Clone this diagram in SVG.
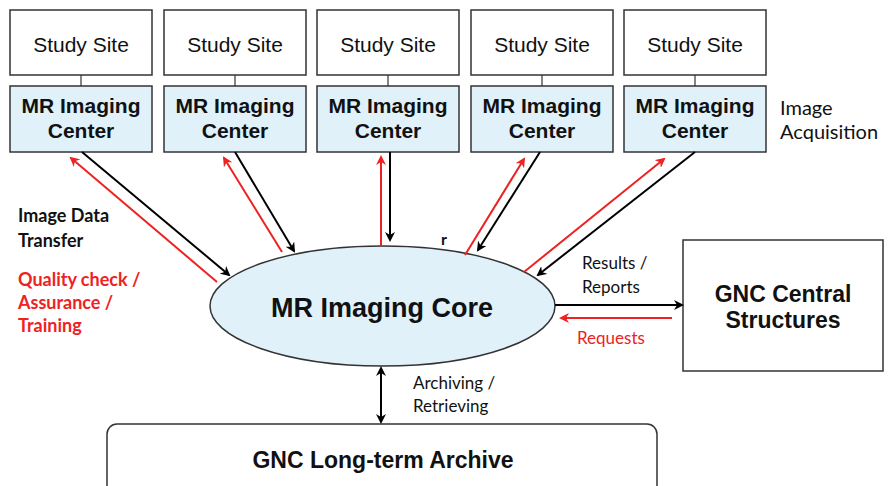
<svg xmlns="http://www.w3.org/2000/svg" width="896" height="486" viewBox="0 0 896 486">
<defs>
<marker id="ab" markerWidth="10" markerHeight="10" refX="8" refY="5" orient="auto" markerUnits="userSpaceOnUse"><path d="M0,0 L10,5 L0,10 L3,5 Z" fill="#000"/></marker>
<marker id="ar" markerWidth="10" markerHeight="10" refX="8" refY="5" orient="auto" markerUnits="userSpaceOnUse"><path d="M0,0 L10,5 L0,10 L3,5 Z" fill="#ee2222"/></marker>
<marker id="abs" markerWidth="10" markerHeight="10" refX="2" refY="5" orient="auto" markerUnits="userSpaceOnUse"><path d="M10,0 L0,5 L10,10 L7,5 Z" fill="#000"/></marker>
</defs>
<style>
.site{fill:#fff;stroke:#333;stroke-width:1.5}
.ctr{fill:#e0f1fa;stroke:#333;stroke-width:1.5}
.ts{font-family:"Liberation Sans",Arial,sans-serif;font-size:21px;fill:#111;text-anchor:middle}
.tb{font-family:"Liberation Sans",Arial,sans-serif;font-size:21px;font-weight:bold;fill:#111;text-anchor:middle}
.lab{font-family:Lato,"Open Sans",sans-serif;font-size:17px;fill:#111}
.labb{font-family:Lato,"Open Sans",sans-serif;font-size:18px;font-weight:bold;fill:#111}
.labr{font-family:Lato,"Open Sans",sans-serif;font-size:18px;font-weight:bold;fill:#ee2222}
.bl{stroke:#000;stroke-width:2;fill:none;marker-end:url(#ab)}
.rd{stroke:#ee2222;stroke-width:2;fill:none;marker-end:url(#ar)}
.thin{stroke:#333;stroke-width:1.2}
</style>
<rect width="896" height="486" fill="#fff"/>
<g id="site1"><rect class="site" x="10" y="10" width="142" height="65"/><text class="ts" x="81" y="52">Study Site</text></g>
<g id="site2"><rect class="site" x="164" y="10" width="142" height="65"/><text class="ts" x="235" y="52">Study Site</text></g>
<g id="site3"><rect class="site" x="317" y="10" width="142" height="65"/><text class="ts" x="388" y="52">Study Site</text></g>
<g id="site4"><rect class="site" x="471" y="10" width="142" height="65"/><text class="ts" x="542" y="52">Study Site</text></g>
<g id="site5"><rect class="site" x="624" y="10" width="142" height="65"/><text class="ts" x="695" y="52">Study Site</text></g>
<g id="center1"><rect class="ctr" x="10" y="86" width="142" height="66"/><text class="tb" x="81" y="113">MR Imaging</text><text class="tb" x="81" y="138">Center</text></g>
<g id="center2"><rect class="ctr" x="164" y="86" width="142" height="66"/><text class="tb" x="235" y="113">MR Imaging</text><text class="tb" x="235" y="138">Center</text></g>
<g id="center3"><rect class="ctr" x="317" y="86" width="142" height="66"/><text class="tb" x="388" y="113">MR Imaging</text><text class="tb" x="388" y="138">Center</text></g>
<g id="center4"><rect class="ctr" x="471" y="86" width="142" height="66"/><text class="tb" x="542" y="113">MR Imaging</text><text class="tb" x="542" y="138">Center</text></g>
<g id="center5"><rect class="ctr" x="624" y="86" width="142" height="66"/><text class="tb" x="695" y="113">MR Imaging</text><text class="tb" x="695" y="138">Center</text></g>
<g id="core"><ellipse cx="382.5" cy="306" rx="172.5" ry="60" fill="#e0f1fa" stroke="#333" stroke-width="1.5"/><text class="tb" x="382" y="317" style="font-size:27px">MR Imaging Core</text></g>
<g id="central"><rect class="site" x="683" y="240" width="200" height="131"/><text class="tb" x="783" y="302" style="font-size:23px">GNC Central</text><text class="tb" x="783" y="328" style="font-size:23px">Structures</text></g>
<g id="archive"><rect class="site" x="107" y="424" width="550" height="80" rx="10"/><text class="tb" x="383" y="468" style="font-size:23px">GNC Long-term Archive</text></g>
<g id="connectors">
<line class="thin" x1="81" y1="75" x2="81" y2="86"/>
<line class="thin" x1="235" y1="75" x2="235" y2="86"/>
<line class="thin" x1="388" y1="75" x2="388" y2="86"/>
<line class="thin" x1="542" y1="75" x2="542" y2="86"/>
<line class="thin" x1="695" y1="75" x2="695" y2="86"/>
<line class="bl" x1="82" y1="152" x2="229" y2="275"/>
<line class="rd" x1="217" y1="282" x2="71" y2="158"/>
<line class="bl" x1="235" y1="152" x2="294" y2="251"/>
<line class="rd" x1="282" y1="252" x2="224" y2="158"/>
<line class="bl" x1="390" y1="152" x2="390" y2="240"/>
<line class="rd" x1="381" y1="246" x2="381" y2="157"/>
<line class="bl" x1="540" y1="152" x2="478" y2="250"/>
<line class="rd" x1="465" y1="255" x2="524" y2="159"/>
<line class="bl" x1="695" y1="152" x2="538" y2="275"/>
<line class="rd" x1="524" y1="272" x2="664" y2="159"/>
<line class="bl" x1="555" y1="305" x2="682" y2="305"/>
<line class="rd" x1="672" y1="318" x2="561" y2="318"/>
<line stroke="#000" stroke-width="2" x1="381" y1="368" x2="381" y2="422" marker-start="url(#abs)" marker-end="url(#ab)"/>
</g>
<text class="lab" x="780" y="115" style="font-size:20px">Image</text>
<text class="lab" x="780" y="139" style="font-size:20px">Acquisition</text>
<text class="labb" x="18" y="222">Image Data</text>
<text class="labb" x="18" y="247">Transfer</text>
<text class="labr" x="18" y="286">Quality check /</text>
<text class="labr" x="18" y="309">Assurance /</text>
<text class="labr" x="18" y="332">Training</text>
<text class="labb" x="441" y="245" style="font-size:16px">r</text>
<text class="lab" x="582" y="269">Results /</text>
<text class="lab" x="582" y="293">Reports</text>
<text class="lab" x="577" y="344" style="fill:#ee2222">Requests</text>
<text class="lab" x="413" y="389">Archiving /</text>
<text class="lab" x="413" y="412">Retrieving</text>
</svg>
